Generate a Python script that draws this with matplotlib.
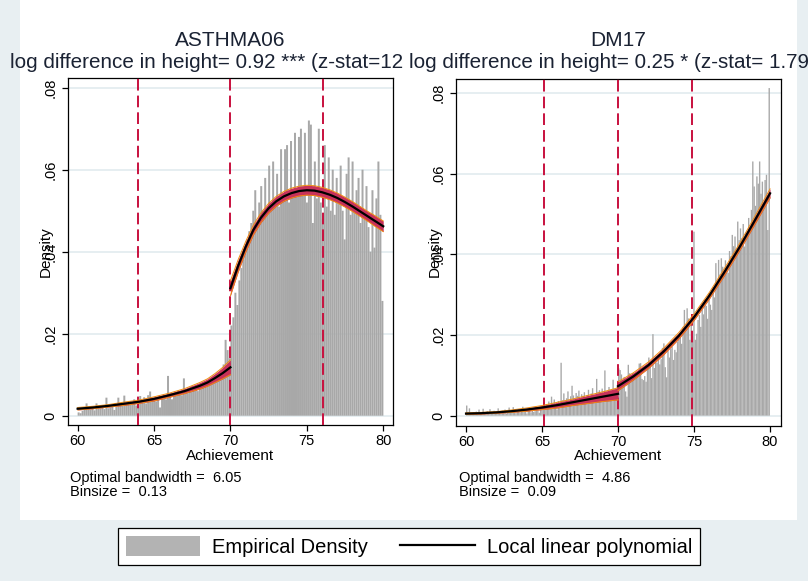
import numpy as np
import matplotlib.pyplot as plt
from matplotlib.patches import Rectangle, Patch
from matplotlib.lines import Line2D
from matplotlib.transforms import Bbox, TransformedBbox

plt.rcParams['font.family'] = ['Liberation Sans', 'DejaVu Sans']

W, H = 808, 581

# ---------------- ASTHMA06 ----------------
a_bin = 0.13
# bar heights (x 0.001), bins start at 60 (left of cutoff) and 70 (right of cutoff)
a_hist_left = [
    0.8, 0.6, 1.2, 1.5, 3.0, 1.8, 1.5, 2.2, 1.3, 3.0, 2.0,
    1.8, 2.5, 1.6, 4.4, 1.8, 2.0, 2.5, 1.4, 2.2, 4.4, 3.0,
    2.5, 4.9, 3.0, 2.8, 3.5, 3.0, 4.0, 2.5, 3.3, 4.8, 3.5,
    4.5, 3.0, 5.0, 5.9, 4.5, 4.0, 3.5, 4.2, 2.0, 4.5, 5.0,
    4.0, 9.7, 5.5, 4.0, 5.2, 4.8, 6.0, 5.8, 5.0, 9.1, 6.0,
    5.5, 6.2, 7.2, 6.5, 7.0, 6.0, 7.2, 7.5, 6.8, 8.0, 7.2,
    8.5, 8.0, 8.8, 9.5, 9.2, 10.0, 11.0, 12.5, 18.5, 16.0, 14.0,
]
a_hist_right = [
    22, 24, 30, 27, 33, 36, 38, 40, 43, 45, 47,
    50, 55, 47, 52, 56, 50, 58, 49, 61, 52, 62,
    53, 59, 51, 65, 53, 65, 66, 52, 67, 55, 69,
    54, 68, 70, 56, 69, 52, 72, 71, 47, 62, 53,
    70, 52, 48, 66, 51, 63, 50, 60, 49, 58, 52,
    61, 50, 43, 59, 63, 49, 62, 51, 55, 58, 47,
    60, 50, 56, 46, 40, 55, 41, 53, 62, 49, 28,
]
a_fit_lx = [60, 61, 62, 63, 64, 65, 66, 67, 68, 68.5, 69, 69.5, 70]
a_fit_ly = [.0017, .0020, .0024, .0029, .0034, .0041, .0050, .0060, .0073, .0081, .0092, .0104, .0118]
a_ci_l = [.0003, .0003, .0003, .0004, .0004, .0005, .0005, .0006, .0008, .0009, .0011, .0014, .0018]
a_fit_rx = [70, 70.5, 71, 71.5, 72, 72.5, 73, 73.5, 74, 74.5, 75, 75.5, 76, 76.5, 77, 77.5, 78, 78.5, 79, 79.5, 80]
a_fit_ry = [.0311, .0365, .0412, .0453, .0483, .0506, .0523, .0535, .0543, .0548, .0550,
            .0549, .0545, .0539, .0531, .0521, .0510, .0498, .0486, .0474, .0462]
a_ci_r = [.0018, .0015, .0013, .0012, .0012, .0012, .0012, .0012, .0012, .0012, .0012,
          .0012, .0012, .0012, .0012, .0012, .0012, .0012, .0012, .0013, .0013]
a_cuts = [63.95, 70, 76.05]

# ---------------- DM17 ----------------
d_bin = 0.09
d_hist_left = [
    2.5, 0.5, 1.8, 0.4, 0.6, 0.8, 0.5, 1.0, 0.3, 1.5, 0.6,
    0.8, 1.7, 0.5, 0.7, 1.1, 0.4, 1.6, 0.6, 0.9, 1.2, 0.5,
    0.7, 1.8, 0.9, 0.6, 1.2, 0.8, 1.5, 0.5, 0.9, 2.0, 1.0,
    0.8, 2.1, 1.2, 0.6, 1.0, 1.6, 0.7, 1.1, 2.2, 0.9, 1.3,
    0.5, 1.2, 1.9, 0.8, 1.4, 0.9, 1.1, 2.0, 1.3, 0.7, 1.6,
    1.8, 2.2, 1.4, 2.8, 1.9, 3.5, 2.3, 4.7, 3.0, 4.0, 2.5,
    1.5, 3.6, 2.2, 13.1, 3.8, 5.5, 2.9, 4.3, 6.0, 3.4, 4.8,
    7.4, 5.0, 3.9, 5.6, 4.9, 6.2, 4.1, 5.3, 4.9, 5.8, 4.4,
    5.1, 6.4, 4.7, 5.5, 6.8, 5.2, 4.6, 9.1, 5.9, 6.3, 5.0,
    6.7, 5.4, 11.2, 6.0, 4.8, 7.1, 6.3, 5.5, 8.9, 6.5, 5.8, 7.2,
]
d_hist_right = [
    11.7, 11.3, 10.2, 8.8, 9.6, 6.0, 4.7, 12.6, 10.5, 9.9, 10.5,
    10.5, 9.2, 10.5, 11.0, 12.9, 13.0, 9.1, 8.8, 9.8, 8.4, 11.5,
    14.4, 12.2, 9.3, 20.2, 11.8, 14.6, 13.1, 15.2, 12.7, 14.0, 16.8,
    17.9, 12.0, 9.5, 16.0, 14.4, 16.5, 17.1, 13.8, 16.3, 15.7, 18.3,
    18.8, 20.5, 17.8, 22.0, 26.2, 21.5, 26.6, 24.1, 18.8, 22.5, 19.7,
    45.6, 18.8, 20.3, 23.7, 24.9, 22.0, 26.2, 25.1, 28.7, 27.2, 24.0,
    30.3, 27.5, 26.2, 31.0, 29.3, 37.8, 33.5, 38.6, 35.0, 39.0, 36.9,
    36.0, 38.5, 37.0, 35.4, 40.8, 39.5, 44.8, 42.0, 44.4, 41.3, 48.1,
    43.5, 46.4, 44.0, 47.5, 41.9, 45.3, 44.4, 49.0, 46.2, 51.0, 63.0,
    56.8, 52.0, 59.3, 57.5, 63.0, 55.0, 58.0, 51.5, 58.4, 59.7, 46.0, 81.2,
]
d_fit_lx = [60, 61, 62, 63, 64, 65, 66, 67, 68, 69, 70]
d_fit_ly = [.0005, .0006, .0008, .0011, .0015, .0020, .0026, .0033, .0040, .0047, .0054]
d_ci_l = [.0002, .0002, .0002, .0003, .0004, .0005, .0007, .0008, .0010, .0012, .0015]
d_fit_rx = [70, 71, 72, 73, 74, 75, 76, 77, 78, 79, 80]
d_fit_ry = [.0073, .0097, .0125, .0159, .0198, .0244, .0297, .0356, .0418, .0484, .0551]
d_ci_r = [.0011, .0009, .0008, .0008, .0008, .0008, .0008, .0009, .0009, .0010, .0011]
d_cuts = [65.14, 70, 74.86]

RED = '#c8103e'
BAND = '#c8325a'
ORANGE = '#ef8c12'
GRID = '#e4edf0'
BARC = '#a8a8a8'

fig = plt.figure(figsize=(W / 100, H / 100), dpi=100, facecolor='#e8eff2')
fig.patches.append(Rectangle((20 / W, 1 - 520 / H), 777 / W, 520 / H,
                             transform=fig.transFigure, facecolor='white',
                             edgecolor='none', zorder=-5))


def px_rect(l, t, r, b):
    return [l / W, 1 - b / H, (r - l) / W, (b - t) / H]


def panel(rect, xlim, ylim, bw, h_left, h_right, lx, ly, lci, rx, ry, rci, cuts):
    ax = fig.add_axes(rect)
    ax.set_zorder(1)
    ax.set_xlim(*xlim)
    ax.set_ylim(*ylim)
    for yv in [0, .02, .04, .06, .08]:
        ax.axhline(yv, color=GRID, lw=1.3, zorder=0)
    hl = np.array(h_left) / 1000
    hr = np.array(h_right) / 1000
    for x0, h in [(60, hl), (70, hr)]:
        ax.bar(x0 + bw * np.arange(len(h)), h, width=bw, align='edge',
               color=BARC, linewidth=0, zorder=2, snap=False)
    for c in cuts:
        ax.axvline(c, color=RED, lw=1.4, dashes=(6, 2.6), zorder=3)
    for x, y, ci in [(lx, ly, lci), (rx, ry, rci)]:
        x = np.array(x); y = np.array(y); ci = np.array(ci)
        ax.fill_between(x, y - ci, y + ci, color=BAND, lw=0, zorder=4)
        ax.plot(x, y - ci, color=ORANGE, lw=0.7, zorder=4)
        ax.plot(x, y + ci, color=ORANGE, lw=0.7, zorder=4)
        ax.plot(x, y, color='black', lw=1.6, zorder=5)
    ax.set_xticks([60, 65, 70, 75, 80])
    ax.set_yticks([0, .02, .04, .06, .08], ['0', '.02', '.04', '.06', '.08'],
                  rotation=90, va='center')
    ax.tick_params(axis='both', length=4, width=0.9, labelsize=10.5, color='black')
    ax.tick_params(axis='y', pad=3.5)
    ax.tick_params(axis='x', pad=2.5)
    for s in ax.spines.values():
        s.set_linewidth(0.9)
        s.set_color('black')
    return ax


ax1 = panel(px_rect(67.7, 78, 392.7, 425), (59.35, 80.62), (-0.00227, 0.08237), a_bin,
            a_hist_left, a_hist_right, a_fit_lx, a_fit_ly, a_ci_l,
            a_fit_rx, a_fit_ry, a_ci_r, a_cuts)
ax2 = panel(px_rect(456, 79, 780.7, 425.7), (59.34, 80.70), (-0.0025, 0.08344), d_bin,
            d_hist_left, d_hist_right, d_fit_lx, d_fit_ly, d_ci_l,
            d_fit_rx, d_fit_ry, d_ci_r, d_cuts)

TITLE = '#1a2233'


def ftext(x, y, s, **kw):
    return fig.text(x / W, 1 - y / H, s, zorder=3, **kw)


# titles
ftext(230, 41, 'ASTHMA06', ha='center', va='center', fontsize=15, color=TITLE)
t1 = ftext(230, 62, 'log difference in height= 0.92 *** (z-stat=12.961)',
           ha='center', va='center', fontsize=14.9, color=TITLE)
t1.set_clip_on(True)
t1.set_clip_box(TransformedBbox(Bbox([[0, 0], [403 / W, 1]]), fig.transFigure))
ftext(618, 41, 'DM17', ha='center', va='center', fontsize=15, color=TITLE)
ftext(618, 62, 'log difference in height= 0.25 * (z-stat= 1.791)',
      ha='center', va='center', fontsize=14.9, color=TITLE)

# axis titles and notes
for cx, lx0, nx, bwtxt, bstxt in [(230, 46, 70, '6.05', '0.13'), (618, 435, 459, '4.86', '0.09')]:
    ftext(cx, 456, 'Achievement', ha='center', va='center', fontsize=11)
    ftext(lx0, 252, 'Density', ha='center', va='center', fontsize=11, rotation=90)
    ftext(nx, 478, 'Optimal bandwidth =  ' + bwtxt, ha='left', va='center', fontsize=10.5)
    ftext(nx, 492, 'Binsize =  ' + bstxt, ha='left', va='center', fontsize=10.5)

handles = [Patch(facecolor='#b3b3b3', edgecolor='none'),
           Line2D([0], [0], color='black', lw=1.6)]
leg = fig.legend(handles, ['Empirical Density', 'Local linear polynomial'],
                 loc='center', bbox_to_anchor=(409 / W, 1 - 546.5 / H), ncol=2,
                 frameon=True, fancybox=False, framealpha=1, edgecolor='black',
                 fontsize=14.5, handlelength=3.7, handleheight=1.1,
                 handletextpad=0.6, columnspacing=1.6, borderpad=0.4)
leg.get_frame().set_linewidth(0.9)

fig.savefig('out.png', dpi=100, facecolor=fig.get_facecolor())
